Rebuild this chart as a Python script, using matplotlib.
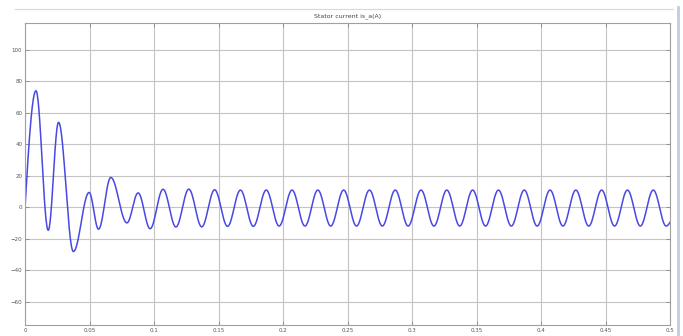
import numpy as np
import matplotlib
matplotlib.use('Agg')
import matplotlib.pyplot as plt
from matplotlib.lines import Line2D

# 스코프 파형 : 극값(시간, 값)을 그림에서 읽어 옴
t_start = [0.0]
v_start = [0.0]

# 과도 구간 극값
t_trans = [0.0085, 0.018, 0.026, 0.0375, 0.0497, 0.057, 0.0665, 0.079, 0.0877]
v_trans = [74.0, -14.5, 54.0, -28.0, 9.5, -13.8, 19.0, -9.8, 9.2]

# 정상 구간 극값 (50Hz)
t_steady = [0.097, 0.107, 0.117, 0.127, 0.137, 0.147, 0.157, 0.167, 0.177, 0.187,
            0.197, 0.207, 0.217, 0.227, 0.237, 0.247, 0.257, 0.267, 0.277, 0.287,
            0.297, 0.307, 0.317, 0.327, 0.337, 0.347, 0.357, 0.367, 0.377, 0.387,
            0.397, 0.407, 0.417, 0.427, 0.437, 0.447, 0.457, 0.467, 0.477, 0.487,
            0.497]
v_steady = [-13.5, 11.5, -12.4, 11.6, -12.3, 11.2, -12.0, 11.0, -12.0, 11.0,
            -11.8, 11.0, -11.8, 11.0, -11.8, 11.0, -11.8, 11.0, -11.8, 11.0,
            -11.8, 11.0, -11.8, 11.0, -11.8, 11.0, -11.8, 11.0, -11.8, 11.0,
            -11.8, 11.0, -11.8, 11.0, -11.8, 11.0, -11.8, 11.0, -11.8, 11.0,
            -11.8]
t_end = [0.5]
v_end = [-9.5]

x_ticks = [0, 0.05, 0.1, 0.15, 0.2, 0.25, 0.3, 0.35, 0.4, 0.45, 0.5]
x_labels = ['0', '0.05', '0.1', '0.15', '0.2', '0.25', '0.3', '0.35', '0.4', '0.45', '0.5']
y_ticks = [-60, -40, -20, 0, 20, 40, 60, 80, 100]

title = 'Stator current is_a(A)'

# 극값 사이를 반주기 코사인으로 연결
tk = np.array(t_start + t_trans + t_steady + t_end)
vk = np.array(v_start + v_trans + v_steady + v_end)
tt, vv = [], []
for i in range(len(tk) - 1):
    s = np.linspace(0, 1, 30)
    if i == 0:
        w = np.sin(s * np.pi / 2)
    elif i == len(tk) - 2:
        w = 1 - np.cos(s * np.pi / 2)
    else:
        w = (1 - np.cos(s * np.pi)) / 2
    tt.append(tk[i] + (tk[i + 1] - tk[i]) * s)
    vv.append(vk[i] + (vk[i + 1] - vk[i]) * w)
tt = np.concatenate(tt)
vv = np.concatenate(vv)

fig = plt.figure(figsize=(6.83, 3.36), dpi=100)
fig.patch.set_facecolor('white')
ax = fig.add_axes([0.0366, 0.0327, 0.9444, 0.8988])

ax.plot(tt, vv, color='#4848e4', lw=1.1)

ax.set_xlim(0, 0.5)
ax.set_ylim(-74.6, 117)
ax.set_xticks(x_ticks)
ax.set_xticklabels(x_labels)
ax.set_yticks(y_ticks)
ax.grid(True, color='#c4c4c4', lw=0.8)
ax.tick_params(direction='in', length=3, width=0.6, colors='#888888',
               labelcolor='#555555', labelsize=4, top=True, right=True, pad=2)
for sp in ax.spines.values():
    sp.set_color('#a0a0a0')
    sp.set_linewidth(0.8)

ax.set_title(title, fontsize=4.5, color='#444444', pad=4)

# 창 테두리
fig.add_artist(Line2D([0.022, 0.985], [0.973, 0.973], color='#d8d8d8', lw=0.8))
fig.add_artist(Line2D([0.993, 0.993], [0, 0.98], color='#c0cce4', lw=2))

fig.savefig('out.png', dpi=100)
